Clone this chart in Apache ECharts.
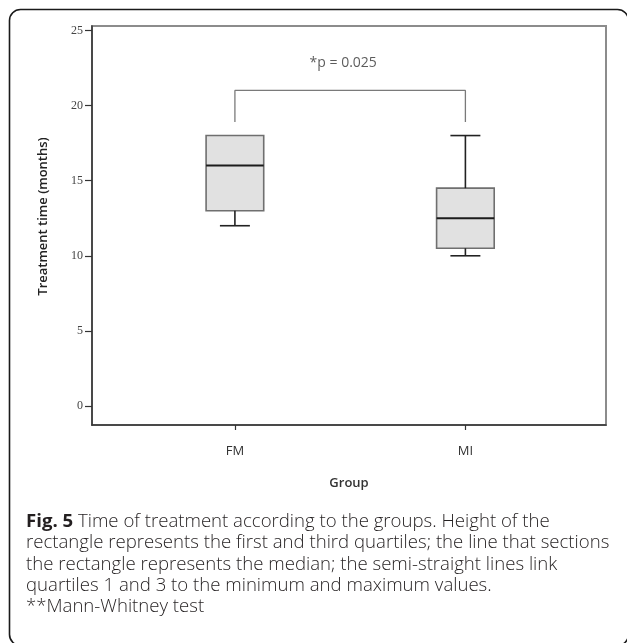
<!DOCTYPE html>
<html>
<head>
<meta charset="utf-8">
<style>
  html, body { margin: 0; padding: 0; background: #fff; }
  #chart { width: 627px; height: 643px; }
</style>
<script src="https://cdn.jsdelivr.net/npm/echarts@6/dist/echarts.min.js"></script>
</head>
<body>
<div id="chart"></div>
<script>
// data
const groups = ['FM', 'MI']
const minVals = [12, 10]
const q1Vals = [13, 10.5]
const medianVals = [16, 12.5]
const q3Vals = [18, 14.5]
const maxVals = [18, 18]
const yTicks = [0, 5, 10, 15, 20, 25]

// significance bracket
const bracketTop = 21
const bracketEnd = 18.9
const pText = '*p = 0.025'
const pPos = [0.47, 22.8]

const captionLines = [
  '{b|Fig. 5} Time of treatment according to the groups. Height of the',
  'rectangle represents the first and third quartiles; the line that sections',
  'the rectangle represents the median; the semi-straight lines link',
  'quartiles 1 and 3 to the minimum and maximum values.',
  '**Mann-Whitney test'
]

const chart = echarts.init(document.getElementById('chart'))

const boxData = groups.map((g, i) => [i, minVals[i], q1Vals[i], medianVals[i], q3Vals[i], maxVals[i]])

function renderBox(params, api) {
  const i = api.value(0)
  const pMin = api.coord([i, api.value(1)])
  const pQ1 = api.coord([i, api.value(2)])
  const pMed = api.coord([i, api.value(3)])
  const pQ3 = api.coord([i, api.value(4)])
  const pMax = api.coord([i, api.value(5)])
  const half = api.size([0.25, 0])[0] / 2
  const cap = api.size([0.13, 0])[0] / 2
  const cx = pQ1[0]
  const dark = { stroke: '#222', lineWidth: 1.6 }
  const children = [
    {
      type: 'rect',
      shape: { x: cx - half, y: pQ3[1], width: half * 2, height: pQ1[1] - pQ3[1] },
      style: { fill: '#e1e1e1', stroke: '#6f6f6f', lineWidth: 1.6 }
    },
    {
      type: 'line',
      shape: { x1: cx - half, y1: pMed[1], x2: cx + half, y2: pMed[1] },
      style: { stroke: '#1c1c1c', lineWidth: 2 }
    }
  ]
  // whiskers only where they have length
  if (api.value(5) > api.value(4)) {
    children.push({ type: 'line', shape: { x1: cx, y1: pQ3[1], x2: cx, y2: pMax[1] }, style: dark })
    children.push({ type: 'line', shape: { x1: cx - cap, y1: pMax[1], x2: cx + cap, y2: pMax[1] }, style: dark })
  }
  if (api.value(1) < api.value(2)) {
    children.push({ type: 'line', shape: { x1: cx, y1: pQ1[1], x2: cx, y2: pMin[1] }, style: dark })
    children.push({ type: 'line', shape: { x1: cx - cap, y1: pMin[1], x2: cx + cap, y2: pMin[1] }, style: dark })
  }
  return { type: 'group', children: children }
}

const option = {
  animation: false,
  backgroundColor: '#fff',
  grid: {
    left: 92,
    top: 26,
    right: 21,
    bottom: 218,
    show: true,
    borderColor: '#8c8c8c',
    borderWidth: 2,
    backgroundColor: 'transparent'
  },
  xAxis: {
    type: 'value',
    min: -0.62,
    max: 1.61,
    name: 'Group',
    nameLocation: 'middle',
    nameGap: 52,
    nameTextStyle: { fontFamily: 'Open Sans', fontSize: 13, fontWeight: 600, color: '#333' },
    splitLine: { show: false },
    axisLine: { show: true, onZero: false, lineStyle: { color: '#333', width: 1.5 } },
    axisTick: { show: true, customValues: [0, 1], length: 5, lineStyle: { color: '#333', width: 1.2 } },
    axisLabel: {
      customValues: [0, 1],
      formatter: (v) => groups[Math.round(v)],
      margin: 20,
      fontFamily: 'Open Sans',
      fontSize: 13,
      color: '#333'
    }
  },
  yAxis: {
    type: 'value',
    min: -1.26,
    max: 25.29,
    name: 'Treatment time (months)',
    nameLocation: 'middle',
    nameGap: 42,
    nameRotate: 90,
    nameTextStyle: { fontFamily: 'Open Sans', fontSize: 13, fontWeight: 600, color: '#222', padding: [0, 0, 0, 18] },
    splitLine: { show: false },
    axisLine: { show: true, onZero: false, lineStyle: { color: '#333', width: 1.5 } },
    axisTick: { show: true, customValues: yTicks, length: 7, lineStyle: { color: '#333', width: 1.2 } },
    axisLabel: {
      customValues: yTicks,
      margin: 9,
      fontFamily: 'Liberation Serif',
      fontSize: 12,
      color: '#444'
    }
  },
  series: [
    {
      type: 'custom',
      renderItem: renderBox,
      encode: { x: 0, y: [1, 2, 3, 4, 5] },
      data: boxData,
      z: 3
    },
    {
      type: 'line',
      data: [[0, bracketEnd], [0, bracketTop], [1, bracketTop], [1, bracketEnd]],
      symbol: 'none',
      lineStyle: { color: '#7a7a7a', width: 1.3 },
      z: 2
    },
    {
      type: 'scatter',
      data: [pPos],
      symbolSize: 0,
      label: {
        show: true,
        position: 'inside',
        formatter: pText,
        fontFamily: 'Open Sans',
        fontSize: 14,
        color: '#333'
      }
    }
  ],
  graphic: [
    {
      type: 'rect',
      shape: { x: 9.5, y: 9.5, width: 619, height: 636, r: 11 },
      style: { fill: 'none', stroke: '#1a1a1a', lineWidth: 1.6 },
      silent: true
    },
    {
      type: 'text',
      left: 26,
      top: 511,
      style: {
        text: captionLines.join('\n'),
        fontFamily: 'Open Sans',
        fontSize: 18.6,
        fontWeight: 300,
        lineHeight: 21.3,
        fill: '#231f20',
        rich: {
          b: { fontFamily: 'Open Sans', fontSize: 18.6, fontWeight: 'bold', lineHeight: 21.3, fill: '#231f20' }
        }
      }
    }
  ]
}

chart.setOption(option)
</script>
</body>
</html>
